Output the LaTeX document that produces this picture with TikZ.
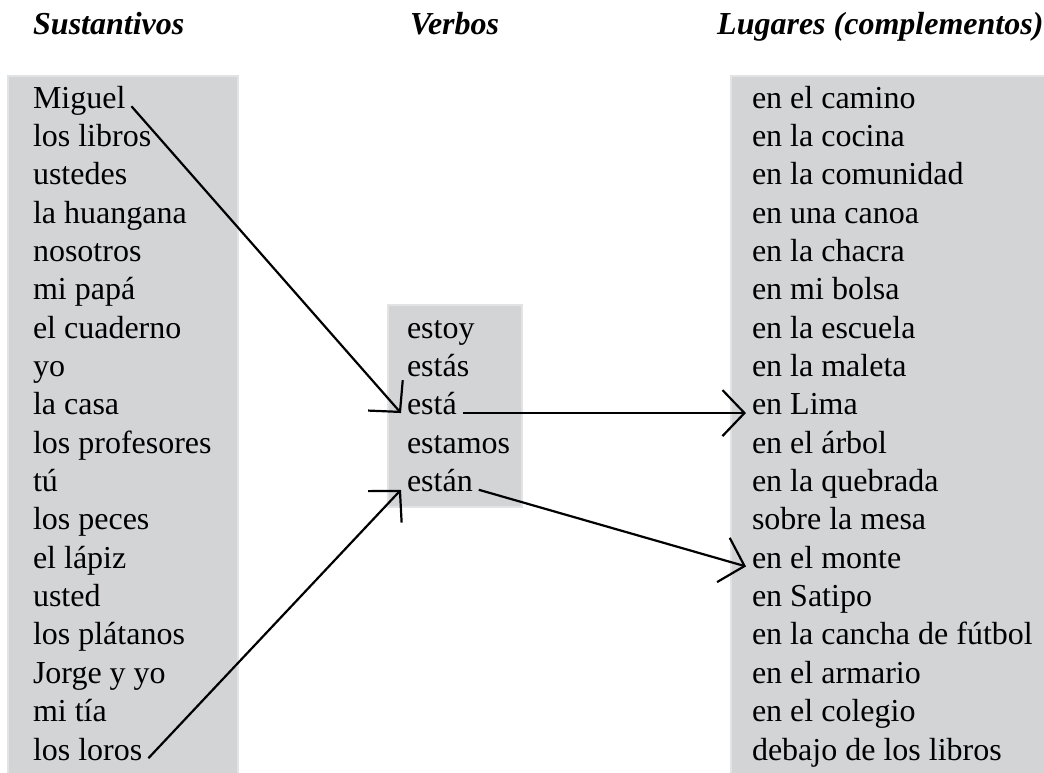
\documentclass[tikz,border=0pt]{standalone}
\usepackage{fontspec}
\setmainfont{Liberation Serif}
\usetikzlibrary{arrows.meta}

\definecolor{boxgray}{RGB}{211,212,214}
\definecolor{boxedge}{RGB}{226,227,228}

\tikzset{
  colbox/.style={fill=boxgray, draw=boxedge, line width=2pt},
  head/.style={anchor=base west, inner sep=0pt, font=\fontsize{32}{38}\selectfont\bfseries\itshape},
  word/.style={anchor=base west, inner sep=0pt, outer sep=6pt, text height=0.55em, text depth=0.2em, font=\fontsize{32}{38}\selectfont},
  link/.style={line width=2.2pt, -{Straight Barb[length=22pt,width=46pt]}}
}

\begin{document}
\begin{tikzpicture}[x=1pt,y=1pt,yscale=-1,xscale=1]
\useasboundingbox (0,0) rectangle (1044,772);

%Shape: Rectangle [id:sustantivos]
\draw [colbox] (8,76) rectangle (238,775) ;
%Shape: Rectangle [id:verbos]
\draw [colbox] (388,305) rectangle (522,507) ;
%Shape: Rectangle [id:lugares]
\draw [colbox] (731,76) rectangle (1050,775) ;

% Headers
\draw (33,34) node [head] (hsus) {Sustantivos};
\draw (410,34) node [head] (hverb) {Verbos};
\draw (717,34) node [head] (hlug) {Lugares (complementos)};

% Text Node - Sustantivos
\draw (27,108) node [word] (miguel) {Miguel};
\draw (27,146.4) node [word] (libros) {los libros};
\draw (27,184.7) node [word] (ustedes) {ustedes};
\draw (27,223.1) node [word] (huangana) {la huangana};
\draw (27,261.4) node [word] (nosotros) {nosotros};
\draw (27,299.8) node [word] (papa) {mi papá};
\draw (27,338.1) node [word] (cuaderno) {el cuaderno};
\draw (27,376.5) node [word] (yo) {yo};
\draw (27,414.8) node [word] (casa) {la casa};
\draw (27,453.2) node [word] (profesores) {los profesores};
\draw (27,491.5) node [word] (tu) {tú};
\draw (27,529.9) node [word] (peces) {los peces};
\draw (27,568.2) node [word] (lapiz) {el lápiz};
\draw (27,606.6) node [word] (usted) {usted};
\draw (27,644.9) node [word] (platanos) {los plátanos};
\draw (27,683.3) node [word] (jorge) {Jorge y yo};
\draw (27,721.6) node [word] (tia) {mi tía};
\draw (27,760) node [word] (loros) {los loros};

% Text Node - Verbos
\draw (401,338.1) node [word] (estoy) {estoy};
\draw (401,376.5) node [word] (estas) {estás};
\draw (401,414.8) node [word] (esta) {está};
\draw (401,453.2) node [word] (estamos) {estamos};
\draw (401,491.5) node [word] (estan) {están};

% Text Node - Lugares
\draw (746,108) node [word] (camino) {en el camino};
\draw (746,146.4) node [word] (cocina) {en la cocina};
\draw (746,184.7) node [word] (comunidad) {en la comunidad};
\draw (746,223.1) node [word] (canoa) {en una canoa};
\draw (746,261.4) node [word] (chacra) {en la chacra};
\draw (746,299.8) node [word] (bolsa) {en mi bolsa};
\draw (746,338.1) node [word] (escuela) {en la escuela};
\draw (746,376.5) node [word] (maleta) {en la maleta};
\draw (746,414.8) node [word] (lima) {en Lima};
\draw (746,453.2) node [word] (arbol) {en el árbol};
\draw (746,491.5) node [word] (quebrada) {en la quebrada};
\draw (746,529.9) node [word] (mesa) {sobre la mesa};
\draw (746,568.2) node [word] (monte) {en el monte};
\draw (746,606.6) node [word] (satipo) {en Satipo};
\draw (746,644.9) node [word] (cancha) {en la cancha de fútbol};
\draw (746,683.3) node [word] (armario) {en el armario};
\draw (746,721.6) node [word] (colegio) {en el colegio};
\draw (746,760) node [word] (debajo) {debajo de los libros};

%Straight Lines [id:arrows]
\draw [link] (miguel.east) -- (esta.west) ;
\draw [link] (loros.east) -- (estan.west) ;
\draw [link] (esta.east) -- (lima.west) ;
\draw [link] (estan.east) -- (monte.west) ;

\end{tikzpicture}
\end{document}
